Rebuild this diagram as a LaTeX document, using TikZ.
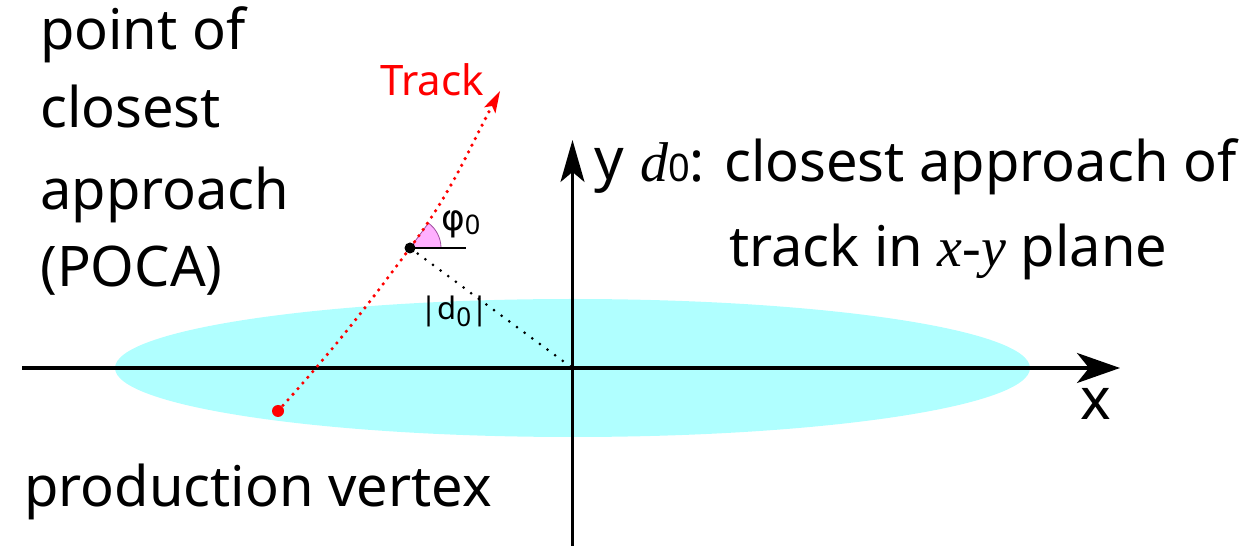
\documentclass[tikz,border=0pt]{standalone}
\usepackage{fontspec}
\setmainfont{Noto Sans}
\newfontfamily\tms{Liberation Serif}
\newfontfamily\dvs{DejaVu Sans}
\usetikzlibrary{arrows.meta}
\definecolor{beam}{HTML}{B0FFFF}
\definecolor{wedgefill}{HTML}{FFB0FF}
\definecolor{wedgeline}{HTML}{A050A0}
\tikzset{
  big/.style={font=\fontsize{56}{56}\selectfont, inner sep=0pt, anchor=base west},
  xaxis/.style={line width=3.5pt, -{Stealth[length=43pt,width=30pt,inset=12pt]}},
  yaxis/.style={line width=2.2pt, -{Stealth[length=42pt,width=24pt,inset=10pt]}},
  trackline/.style={red, line width=3.6pt, dash pattern=on 0pt off 7.5pt, line cap=round,
    -{Stealth[length=22pt,width=13pt,inset=5pt,line cap=butt,line width=0pt]}},
  dline/.style={black, line width=3pt, dash pattern=on 0pt off 9.5pt, line cap=round},
}
\begin{document}
\begin{tikzpicture}[x=1pt,y=1pt]
\useasboundingbox (0,0) rectangle (1258,546);
% beam spot
\fill[beam] (572.5,178) ellipse [x radius=457.5, y radius=69];
% axes
\coordinate (xs) at (22,178);
\coordinate (xe) at (1120,178);
\coordinate (ys) at (572.5,0);
\coordinate (ye) at (572.5,406);
\coordinate (O) at (572.5,178);
\draw[xaxis] (xs) -- (xe);
\draw[yaxis] (ys) -- (ye);
% points
\coordinate (V) at (278,135);
\coordinate (P) at (410,298);
\coordinate (T) at (500,455);
\coordinate (H) at (466,298);
% angle wedge
\filldraw[fill=wedgefill, draw=wedgeline, line width=0.8pt] (P) -- ++(31,0) arc[start angle=0, end angle=53.5, radius=31] -- cycle;
\draw[line width=2.5pt] (P) -- (H);
% d0 line
\draw[dline] (P) -- (O);
% track
\draw[trackline] (V) to[out=48,in=233.5] (P) to[out=53.5,in=242] (T);
\fill[red] (V) circle (6);
\fill[black] (P) circle (5.5);
% labels
\node[font=\fontsize{42}{42}\selectfont, text=red, inner sep=0pt] (track) at (432,466) {Track};
\node[font=\fontsize{36}{36}\selectfont, inner sep=0pt, anchor=base west] (phi) at (441,315) {{\dvs φ}\raisebox{-4pt}{\fontsize{27}{27}\selectfont 0}};
\node[font=\fontsize{31}{31}\selectfont, inner sep=0pt, anchor=base west] (d0) at (420,226) {|d\raisebox{-7pt}{\fontsize{26}{26}\selectfont 0}|};
\node[big, font=\fontsize{58}{58}\selectfont] (xl) at (1080,126) {x};
\node[big, font=\fontsize{58}{58}\selectfont] (yl) at (594,366) {y};
\node[big] (desc1) at (640,364) {{\tms\itshape d}{\fontsize{38}{38}\selectfont 0}: closest approach of};
\node[big] (desc2) at (729,279) {track in {\tms\itshape x-y} plane};
\node[big] (poca1) at (40,496) {point of};
\node[big] (poca2) at (40,418) {closest};
\node[big] (poca3) at (40,336) {approach};
\node[big] (poca4) at (40,259) {(POCA)};
\node[big] (prod) at (24,39) {production vertex};
\end{tikzpicture}
\end{document}
